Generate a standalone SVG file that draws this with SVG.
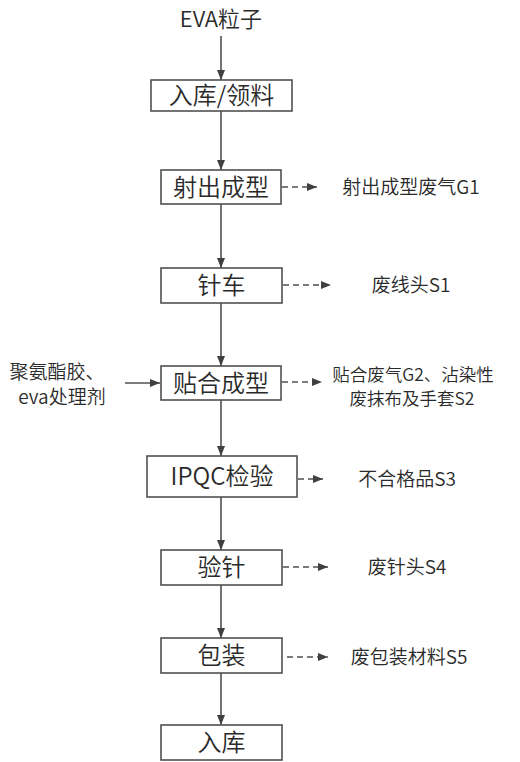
<svg xmlns="http://www.w3.org/2000/svg" width="520" height="762" viewBox="0 0 520 762">
<defs>
<style>
.box{fill:#fff;stroke:#505050;stroke-width:1.6}
.t{font-family:"Noto Sans CJK SC","Noto Sans",sans-serif;fill:#2a2a2a;text-anchor:middle;font-weight:350}
.bt{font-size:24px}
.lt{font-size:19px}
.st{font-size:17.5px}
.ln{stroke:#505050;stroke-width:1.6;fill:none}
.dl{stroke:#505050;stroke-width:1.6;fill:none;stroke-dasharray:6,4}
</style>
<marker id="ah" markerWidth="10" markerHeight="8" refX="10" refY="4" orient="auto" markerUnits="userSpaceOnUse">
<path d="M0,0 L10,4 L0,8 Z" fill="#404040"/>
</marker>
</defs>
<rect width="520" height="762" fill="#fff"/>
<g id="connectors">
<line class="ln" x1="221" y1="36" x2="221" y2="80" marker-end="url(#ah)"/>
<line class="ln" x1="221" y1="111" x2="221" y2="170" marker-end="url(#ah)"/>
<line class="ln" x1="221" y1="204" x2="221" y2="268" marker-end="url(#ah)"/>
<line class="ln" x1="221" y1="303" x2="221" y2="366" marker-end="url(#ah)"/>
<line class="ln" x1="221" y1="400" x2="221" y2="456" marker-end="url(#ah)"/>
<line class="ln" x1="221" y1="497" x2="221" y2="550" marker-end="url(#ah)"/>
<line class="ln" x1="221" y1="585" x2="221" y2="638" marker-end="url(#ah)"/>
<line class="ln" x1="221" y1="673" x2="221" y2="725" marker-end="url(#ah)"/>
<line class="ln" x1="125" y1="383" x2="160" y2="383" marker-end="url(#ah)"/>
<line class="dl" x1="282" y1="187" x2="317" y2="187" marker-end="url(#ah)"/>
<line class="dl" x1="283" y1="285" x2="331" y2="285" marker-end="url(#ah)"/>
<line class="dl" x1="282" y1="382" x2="322" y2="382" marker-end="url(#ah)"/>
<line class="dl" x1="298" y1="479" x2="323" y2="479" marker-end="url(#ah)"/>
<line class="dl" x1="283" y1="567" x2="328" y2="567" marker-end="url(#ah)"/>
<line class="dl" x1="287" y1="657" x2="328" y2="657" marker-end="url(#ah)"/>
</g>
<g id="n0"><text class="t" x="221" y="27" font-size="22">EVA粒子</text></g>
<g id="n1"><rect class="box" x="151" y="80" width="141" height="31"/><text class="t bt" x="221.5" y="104">入库/领料</text></g>
<g id="n2"><rect class="box" x="161" y="170" width="120" height="34"/><text class="t bt" x="221" y="196">射出成型</text></g>
<g id="n3"><rect class="box" x="161" y="268" width="121" height="35"/><text class="t bt" x="221.5" y="294">针车</text></g>
<g id="n4"><rect class="box" x="161" y="366" width="120" height="34"/><text class="t bt" x="221" y="392">贴合成型</text></g>
<g id="n5"><rect class="box" x="147" y="456" width="150" height="41"/><text class="t bt" x="222" y="485">IPQC检验</text></g>
<g id="n6"><rect class="box" x="161" y="550" width="121" height="35"/><text class="t bt" x="221.5" y="576">验针</text></g>
<g id="n7"><rect class="box" x="161" y="638" width="121" height="35"/><text class="t bt" x="221.5" y="664">包装</text></g>
<g id="n8"><rect class="box" x="161" y="725" width="121" height="35"/><text class="t bt" x="221.5" y="751">入库</text></g>
<g id="in1"><text class="t lt" x="57" y="379">聚氨酯胶、</text><text class="t lt" x="62" y="404">eva处理剂</text></g>
<g id="o1"><text class="t lt" x="411" y="194">射出成型废气G1</text></g>
<g id="o2"><text class="t lt" x="411" y="292">废线头S1</text></g>
<g id="o3"><text class="t st" x="413" y="381">贴合废气G2、沾染性</text><text class="t st" x="412" y="405">废抹布及手套S2</text></g>
<g id="o4"><text class="t lt" x="407" y="486">不合格品S3</text></g>
<g id="o5"><text class="t lt" x="407" y="574">废针头S4</text></g>
<g id="o6"><text class="t lt" x="409" y="664">废包装材料S5</text></g>
</svg>
